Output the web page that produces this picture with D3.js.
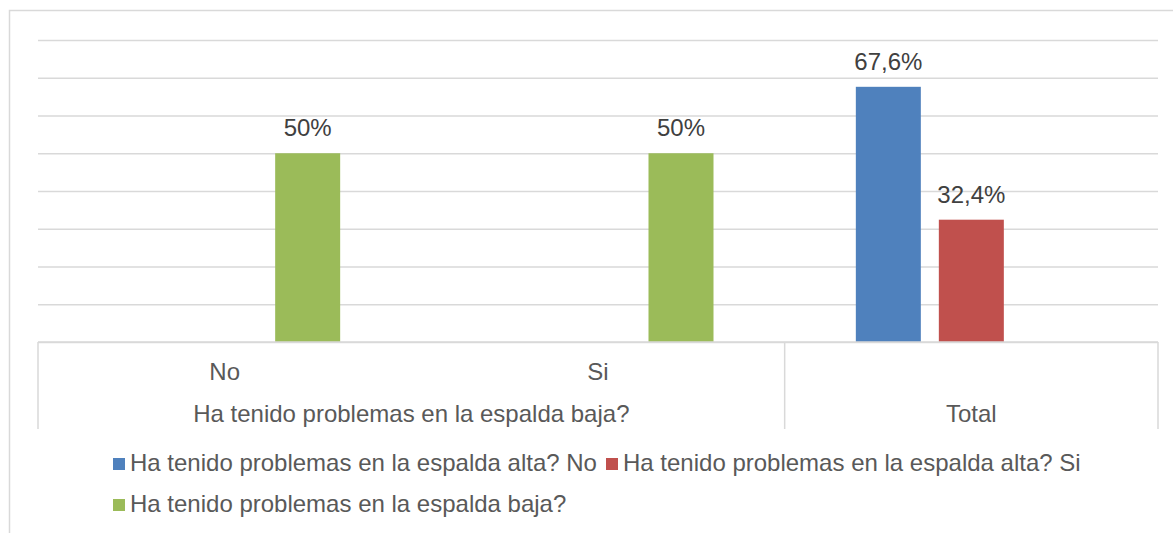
<!DOCTYPE html>
<html><head><meta charset="utf-8">
<script src="https://cdn.jsdelivr.net/npm/d3@7/dist/d3.min.js"></script>
<style>body{margin:0;background:#fff;} svg{display:block;}</style>
</head><body>
<svg id="chart" width="1173" height="533"></svg>
<script>
const categories = ["No", "Si", "Total"];
const groupLabels = ["Ha tenido problemas en la espalda baja?", "Total"];
const seriesNames = ["Ha tenido problemas en la espalda alta? No", "Ha tenido problemas en la espalda alta? Si", "Ha tenido problemas en la espalda baja?"];
const seriesColors = ["#4F81BD", "#C0504D", "#9BBB59"];
const valuesAltaNo = [null, null, 0.676];
const valuesAltaSi = [null, null, 0.324];
const valuesBaja = [0.5, 0.5, null];
const labelsAltaNo = [null, null, "67,6%"];
const labelsAltaSi = [null, null, "32,4%"];
const labelsBaja = ["50%", "50%", null];
const yTicks = [0, 0.1, 0.2, 0.3, 0.4, 0.5, 0.6, 0.7, 0.8];

const seriesVals = [valuesAltaNo, valuesAltaSi, valuesBaja];
const seriesLbls = [labelsAltaNo, labelsAltaSi, labelsBaja];

const svg = d3.select("#chart");
const font = "'Liberation Sans', Arial, sans-serif";
const fs = 24;
const L = 38, R = 1158, T = 40, B = 342;
const grid = "#d9d9d9";

// outer border
svg.append("rect").attr("x", 9.5).attr("y", 10.5).attr("width", 1170).attr("height", 540)
  .attr("fill", "none").attr("stroke", grid).attr("stroke-width", 1.5);

const x0 = d3.scaleBand().domain(categories).range([L, R]).padding(0);
const groupW = 231;
const x1 = d3.scaleBand().domain(d3.range(3)).range([0, groupW]).paddingInner(18 / 83).paddingOuter(0);
const y = d3.scaleLinear().domain([0, 0.8]).range([B, T]);

// gridlines
const yAxis = d3.axisLeft(y).tickValues(yTicks).tickSize(-(R - L)).tickFormat("");
const gy = svg.append("g").attr("transform", `translate(${L},0)`).call(yAxis);
gy.select(".domain").remove();
gy.selectAll(".tick line").attr("stroke", grid).attr("stroke-width", 1.5);

// bars
seriesVals.forEach((vals, si) => {
  const data = categories.map((c, i) => ({c, v: vals[i], lbl: seriesLbls[si][i]})).filter(d => d.v != null);
  svg.append("g").selectAll("rect").data(data).join("rect")
    .attr("x", d => x0(d.c) + (x0.bandwidth() - groupW) / 2 + x1(si))
    .attr("y", d => y(d.v))
    .attr("width", x1.bandwidth())
    .attr("height", d => y(0) - y(d.v))
    .attr("fill", seriesColors[si]);
  svg.append("g").selectAll("text").data(data).join("text")
    .attr("x", d => x0(d.c) + (x0.bandwidth() - groupW) / 2 + x1(si) + x1.bandwidth() / 2)
    .attr("y", d => y(d.v) - 17)
    .attr("text-anchor", "middle")
    .attr("font-family", font).attr("font-size", fs).attr("fill", "#404040")
    .text(d => d.lbl);
});

// category axis box
const axisG = svg.append("g");
axisG.append("line").attr("x1", L).attr("x2", R).attr("y1", B).attr("y2", B).attr("stroke", grid).attr("stroke-width", 1.5);
const divX = [L, x0("Total"), R];
divX.forEach(xx => axisG.append("line").attr("x1", xx).attr("x2", xx).attr("y1", B).attr("y2", 429).attr("stroke", grid).attr("stroke-width", 1.5));

const xAxis = d3.axisBottom(x0).tickSize(0).tickFormat(d => d === "Total" ? "" : d);
const gx = svg.append("g").attr("transform", `translate(0,${B})`).call(xAxis);
gx.select(".domain").remove();
gx.selectAll("text").attr("font-family", font).attr("font-size", fs).attr("fill", "#595959")
  .attr("dy", null).attr("y", 38);

const groupCenters = [(L + x0("Total")) / 2, x0("Total") + x0.bandwidth() / 2];
axisG.selectAll("text.grp").data(groupLabels).join("text")
  .attr("x", (d, i) => groupCenters[i]).attr("y", 422)
  .attr("text-anchor", "middle").attr("font-family", font).attr("font-size", fs).attr("fill", "#595959")
  .text(d => d);

// legend
const legendPos = [{x: 113, y: 471}, {x: 606, y: 471}, {x: 113, y: 512}];
seriesNames.forEach((n, i) => {
  const g = svg.append("g").attr("transform", `translate(${legendPos[i].x},${legendPos[i].y})`);
  g.append("rect").attr("x", 0).attr("y", -13).attr("width", 12).attr("height", 12).attr("fill", seriesColors[i]);
  g.append("text").attr("x", 17).attr("y", 0).attr("font-family", font).attr("font-size", fs).attr("fill", "#595959").text(n);
});
</script>
</body></html>
